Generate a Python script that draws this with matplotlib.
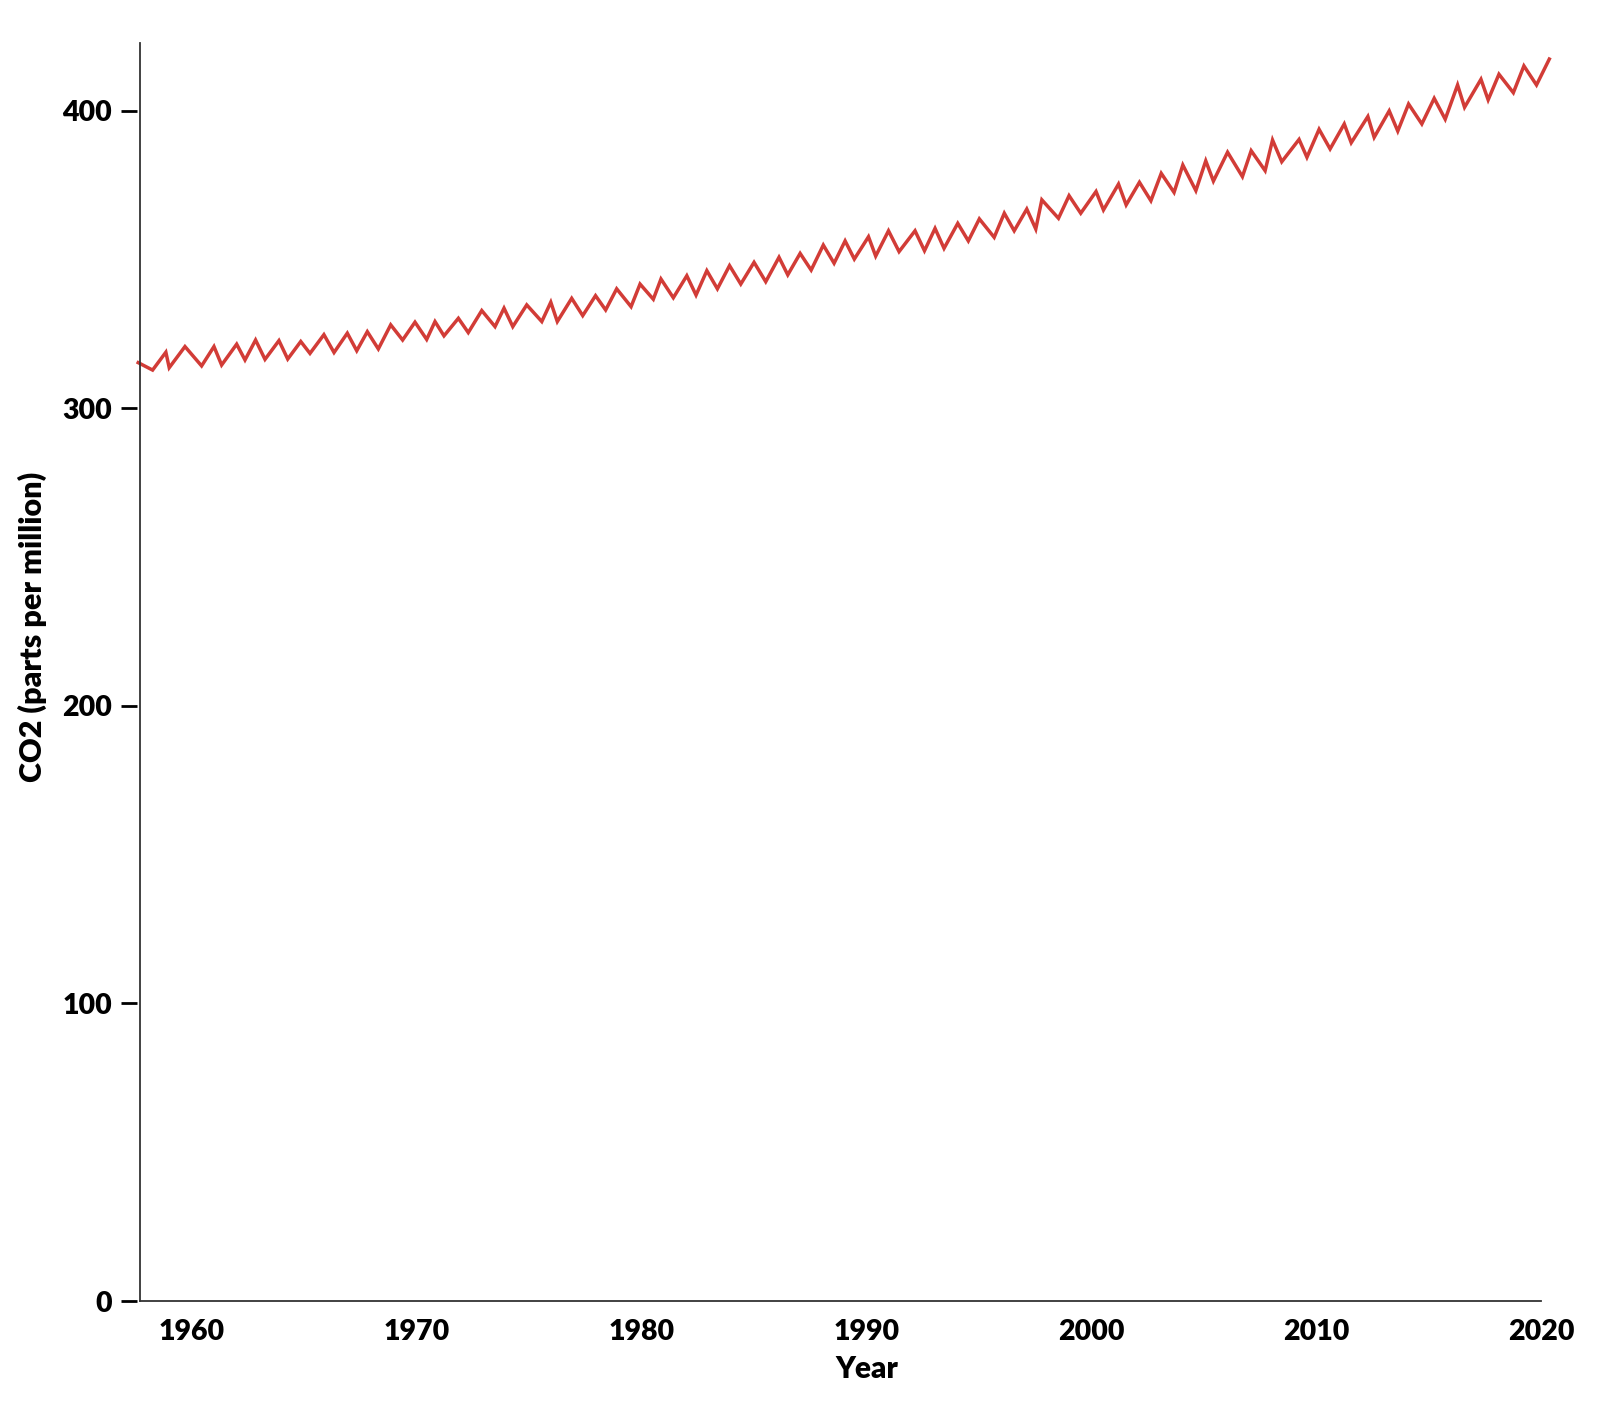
import matplotlib
matplotlib.use("Agg")
import matplotlib.pyplot as plt
from matplotlib.path import Path
from matplotlib.markers import MarkerStyle

plt.rcParams['font.family'] = ['Lato', 'DejaVu Sans']

# Data (decimal year, CO2 ppm)
years = [1957.61, 1958.25, 1958.84, 1958.99, 1959.69, 1960.43, 1960.98, 1961.32,
         1961.99, 1962.36, 1962.83, 1963.25, 1963.87, 1964.26, 1964.84, 1965.25,
         1965.87, 1966.32, 1966.91, 1967.33, 1967.80, 1968.29, 1968.84, 1969.37,
         1969.92, 1970.44, 1970.81, 1971.21, 1971.85, 1972.29, 1972.89, 1973.48,
         1973.88, 1974.27, 1974.89, 1975.56, 1975.96, 1976.25, 1976.89, 1977.38,
         1977.95, 1978.40, 1978.89, 1979.53, 1979.93, 1980.52, 1980.86, 1981.41,
         1982.01, 1982.42, 1982.90, 1983.37, 1983.91, 1984.41, 1985.00, 1985.52,
         1986.11, 1986.50, 1987.05, 1987.54, 1988.08, 1988.56, 1989.05, 1989.46,
         1990.09, 1990.41, 1990.98, 1991.45, 1992.16, 1992.58, 1993.05, 1993.45,
         1994.06, 1994.53, 1995.02, 1995.68, 1996.13, 1996.57, 1997.13, 1997.53,
         1997.80, 1998.54, 1999.01, 1999.53, 2000.21, 2000.54, 2001.21, 2001.55,
         2002.14, 2002.65, 2003.11, 2003.68, 2004.07, 2004.65, 2005.09, 2005.43,
         2006.06, 2006.72, 2007.11, 2007.73, 2008.06, 2008.47, 2009.24, 2009.59,
         2010.13, 2010.62, 2011.25, 2011.56, 2012.30, 2012.58, 2013.25, 2013.63,
         2014.11, 2014.70, 2015.25, 2015.74, 2016.29, 2016.60, 2017.33, 2017.65,
         2018.13, 2018.77, 2019.24, 2019.80, 2020.37]
co2 = [315.3, 312.8, 318.8, 313.6, 320.7, 314.2, 320.7, 314.5,
       321.5, 316.2, 322.9, 316.4, 322.7, 316.5, 322.4, 318.4,
       324.7, 318.7, 325.2, 319.3, 325.7, 319.9, 328.0, 322.9,
       328.9, 323.1, 329.1, 324.3, 330.2, 325.4, 332.8, 327.4,
       333.6, 327.4, 334.7, 329.1, 335.6, 329.1, 336.9, 331.1,
       337.8, 333.0, 340.1, 334.1, 341.7, 336.6, 343.4, 337.1,
       344.5, 338.0, 346.2, 340.1, 347.9, 341.7, 349.0, 342.5,
       350.7, 344.8, 352.0, 346.4, 354.8, 348.7, 356.2, 350.1,
       357.6, 351.1, 359.6, 352.6, 359.6, 352.9, 360.4, 353.7,
       362.1, 356.2, 363.6, 357.4, 365.5, 359.6, 366.9, 360.2,
       370.0, 363.8, 371.4, 365.5, 372.8, 366.6, 375.3, 368.3,
       375.9, 369.7, 378.9, 372.5, 381.7, 373.1, 383.1, 376.3,
       386.0, 377.8, 386.5, 379.8, 390.1, 382.8, 390.3, 384.3,
       393.7, 387.1, 395.5, 389.2, 398.0, 391.0, 399.9, 393.1,
       402.2, 395.5, 404.1, 397.1, 408.6, 401.1, 410.5, 403.6,
       412.2, 406.0, 415.0, 408.6, 417.3]

x_ticks = [1960, 1970, 1980, 1990, 2000, 2010, 2020]
y_ticks = [0, 100, 200, 300, 400]

fig = plt.figure(figsize=(16, 14.04), dpi=100)
ax = fig.add_axes([140 / 1600, 1 - 1301 / 1404, 1401 / 1600, 1258 / 1404])

ax.plot(years, co2, color='#d23c37', linewidth=2.5, clip_on=False,
        solid_joinstyle='miter')

ax.set_xlim(1957.69, 2020)
ax.set_ylim(0, 422.7)

for s in ['top', 'right']:
    ax.spines[s].set_visible(False)
for s in ['left', 'bottom']:
    ax.spines[s].set_color('#333333')
    ax.spines[s].set_linewidth(1.3)

ax.set_xticks(x_ticks)
ax.set_xticklabels([str(v) for v in x_ticks])
ax.set_yticks(y_ticks)
ax.set_yticklabels([str(v) for v in y_ticks])

ax.tick_params(axis='x', length=0, pad=13, labelsize=20.5)
ax.tick_params(axis='y', length=13.7, width=2.0, pad=6.5, labelsize=20.5,
               direction='out', color='black')
for lab in ax.get_xticklabels() + ax.get_yticklabels():
    lab.set_fontweight('heavy')

# tick marks with a small gap from the spine
gap_path = Path([(-1.0, 0.0), (-3.0 / 19.0, 0.0)], [Path.MOVETO, Path.LINETO])
for t in ax.yaxis.get_major_ticks():
    t.tick1line.set_marker(MarkerStyle(gap_path))
    t.tick1line.set_markersize(27.4)
    t.tick1line.set_markeredgewidth(2.0)
    t.tick1line.set_markeredgecolor('black')

ax.set_xlabel('Year', fontsize=21.5, fontweight='heavy')
ax.set_ylabel('CO2 (parts per million)', fontsize=22, fontweight='heavy')
ax.xaxis.set_label_coords(0.519, -0.043)
ax.yaxis.set_label_coords(-0.0665, 0.536)

fig.savefig('out.png', dpi=100, facecolor='white')
